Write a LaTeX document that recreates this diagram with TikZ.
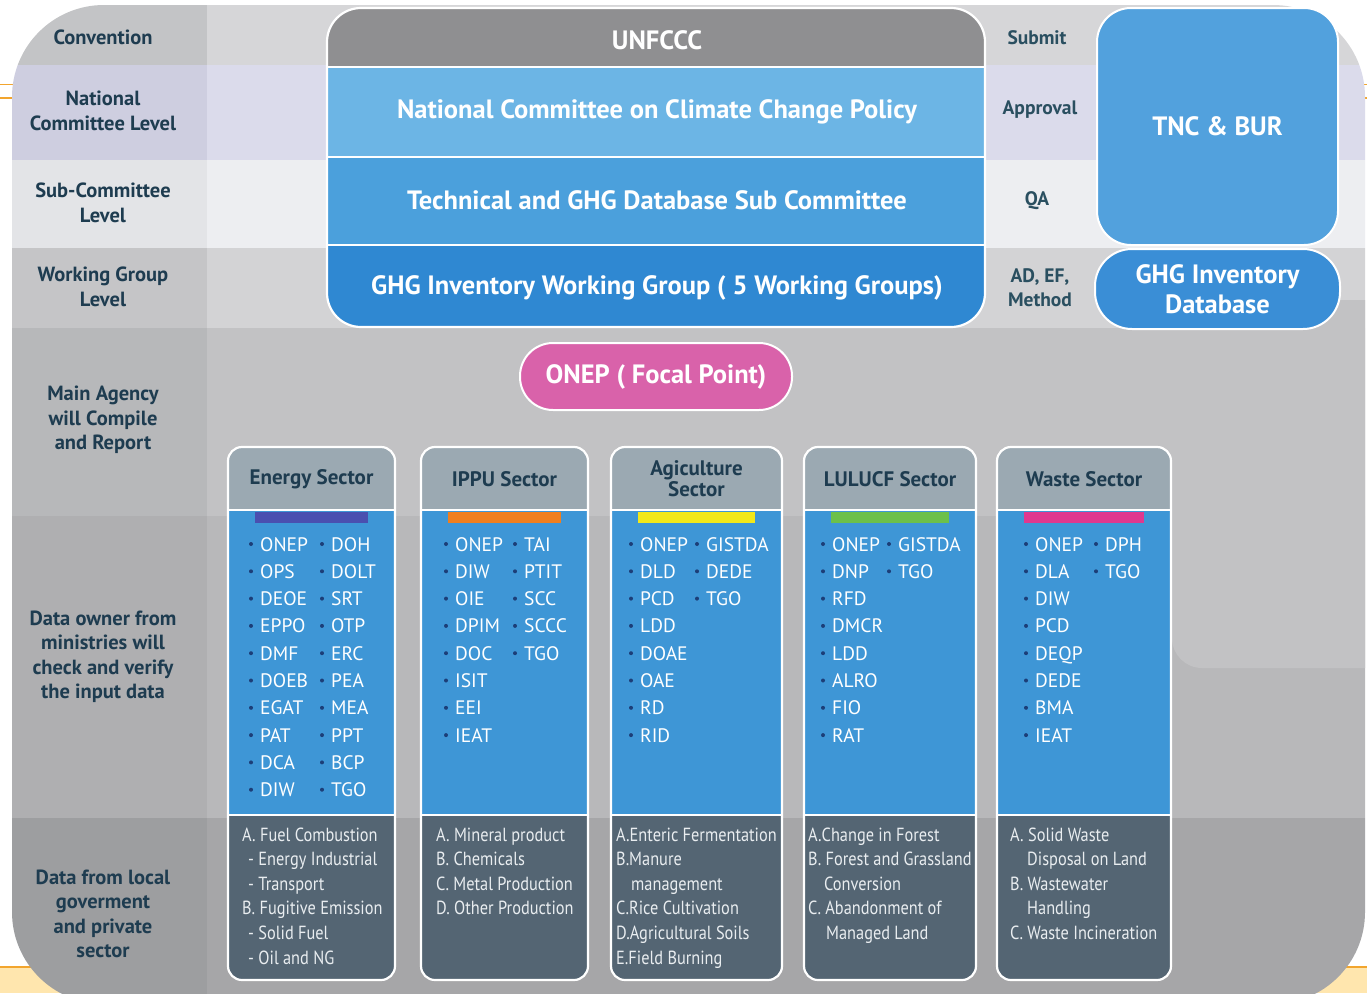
\documentclass[tikz,border=0pt]{standalone}
\usepackage{fontspec}
\setmainfont{PT Sans}
\newfontfamily\condfont[FakeStretch=0.86]{PT Sans}
\definecolor{lblc}{HTML}{1E3C50}
\definecolor{rlblc}{HTML}{2A4F60}
\definecolor{orangeln}{HTML}{F2A52E}
\definecolor{bandfill}{HTML}{FFE6AE}
\definecolor{ra1}{HTML}{C3C4C6}\definecolor{rb1}{HTML}{D6D6D8}
\definecolor{ra2}{HTML}{CECEE0}\definecolor{rb2}{HTML}{DBDBEB}
\definecolor{ra3}{HTML}{E3E4E7}\definecolor{rb3}{HTML}{EDEEF1}
\definecolor{ra4}{HTML}{C5C5C7}\definecolor{rb4}{HTML}{D3D3D5}
\definecolor{ra5}{HTML}{B7B8BA}\definecolor{rb5}{HTML}{C2C2C4}
\definecolor{ra6}{HTML}{AFAFB1}\definecolor{rb6}{HTML}{B8B8BA}
\definecolor{ra7}{HTML}{9D9EA0}\definecolor{rb7}{HTML}{A6A6A8}
\definecolor{unc}{HTML}{8F8F91}
\definecolor{natc}{HTML}{6CB5E5}
\definecolor{techc}{HTML}{4BA0DC}
\definecolor{wgc}{HTML}{2F88D2}
\definecolor{tncc}{HTML}{52A1DD}
\definecolor{dbc}{HTML}{3A8ED6}
\definecolor{onepc}{HTML}{D962AA}
\definecolor{headc}{HTML}{9BA9B2}
\definecolor{bodyc}{HTML}{3E96D6}
\definecolor{botc}{HTML}{546573}
\definecolor{bulletc}{HTML}{1C3E78}
\definecolor{subc}{HTML}{E9EDF0}
\definecolor{barA}{HTML}{4A4FB0}
\definecolor{barB}{HTML}{F07F1E}
\definecolor{barC}{HTML}{F2E81A}
\definecolor{barD}{HTML}{6CC04A}
\definecolor{barE}{HTML}{E0388F}
\tikzset{
  lbl/.style={text=lblc, font=\fontsize{20.5}{24.5}\selectfont\bfseries, align=center, inner sep=0pt},
  rlbl/.style={text=rlblc, font=\fontsize{19.5}{24}\selectfont\bfseries, align=center, inner sep=0pt},
  wtitle/.style={text=white, font=\fontsize{26.5}{30}\selectfont\bfseries, align=center, inner sep=0pt},
  sechead/.style={text=lblc, font=\fontsize{21}{21}\selectfont\bfseries, align=center, inner sep=0pt},
  itemtxt/.style={text=white, font=\fontsize{19.5}{22}\selectfont, anchor=base west, inner sep=0pt},
  bdot/.style={circle, fill=bulletc, inner sep=0pt, minimum size=4pt},
  subtxt/.style={text=subc, font=\condfont\fontsize{19}{20}\selectfont, anchor=base west, inner sep=0pt},
  boxnode/.style={draw=white, line width=2pt, align=center, inner sep=0pt},
}
\newcommand\sectorcol[5]{%
  \begin{scope}
    \clip[rounded corners=14pt] (#2,447) rectangle (#3,980);
    \fill[headc] (#2,447) rectangle (#3,510);
    \fill[bodyc] (#2,510) rectangle (#3,815);
    \fill[botc] (#2,815) rectangle (#3,980);
  \end{scope}
  \draw[white, line width=2.2pt, rounded corners=14pt] (#2,447) rectangle (#3,980);
  \draw[white, line width=2pt] (#2,510) -- (#3,510) (#2,815) -- (#3,815);
  \fill[#4] ({#2+27},512) rectangle ({#3-27},523);
  \node[sechead] (#1-head) at ({(#2+#3)/2},479) {#5};
}
\newcommand\itemcol[3]{%
  \foreach \t [count=\i] in {#3} {
    \node[bdot] (#1-d\i) at ({#2-9},{544+27.3*(\i-1)}) {};
    \node[itemtxt] (#1-t\i) at (#2,{551+27.3*(\i-1)}) {\t};
  }%
}
\newcommand\subcol[3]{%
  \foreach \t/\dx [count=\i] in {#3} {
    \node[subtxt] (#1-s\i) at ({#2+\dx},{841+24.6*(\i-1)}) {\t};
  }%
}
\begin{document}
\begin{tikzpicture}[x=1pt,y=-1pt]
\useasboundingbox (0,0) rectangle (1367,993);
\fill[white] (0,0) rectangle (1367,993);
% slide decorations
\draw[orangeln, line width=1.5pt] (0,84.5) -- (1367,84.5) (0,98) -- (1367,98);
\fill[bandfill] (0,967) rectangle (1367,993);
\draw[orangeln, line width=1.5pt] (0,967) -- (1367,967);
% main panel
\begin{scope}
  \clip[rounded corners=92pt] (12,5) rectangle (1365,1004);
  \fill[ra1] (12,0) rectangle (207,65);   \fill[rb1] (207,0) rectangle (1367,65);
  \fill[ra2] (12,65) rectangle (207,160); \fill[rb2] (207,65) rectangle (1367,160);
  \fill[ra3] (12,160) rectangle (207,248);\fill[rb3] (207,160) rectangle (1367,248);
  \fill[ra4] (12,248) rectangle (207,328);\fill[rb4] (207,248) rectangle (1367,328);
  \fill[ra5] (12,328) rectangle (207,516);\fill[rb5] (207,328) rectangle (1367,516);
  \fill[ra6] (12,516) rectangle (207,818);\fill[rb6] (207,516) rectangle (1367,818);
  \fill[ra7] (12,818) rectangle (207,1010);\fill[rb7] (207,818) rectangle (1367,1010);
  \fill[rb5, rounded corners=30pt] (1172,300) rectangle (1420,668);
\end{scope}
% left labels
\node[lbl] (l1) at (103,37) {Convention};
\node[lbl] (l2) at (103,111) {National\\Committee Level};
\node[lbl] (l3) at (103,203) {Sub-Committee\\Level};
\node[lbl] (l4) at (103,287) {Working Group\\Level};
\node[lbl] (l5) at (103,420) {Main Agency\\will Compile\\and Report};
\node[lbl] (l6) at (103,657) {Data owner from\\ministries will\\check and verify\\the input data};
\node[lbl] (l7) at (103,914) {Data from local\\goverment\\and private\\sector};
% central stack
\begin{scope}
  \clip[rounded corners=34pt] (327,8) rectangle (985,327);
  \fill[unc] (327,8) rectangle (985,67);
  \fill[natc] (327,67) rectangle (985,157);
  \fill[techc] (327,157) rectangle (985,245);
  \fill[wgc] (327,245) rectangle (985,327);
\end{scope}
\draw[white, line width=2pt] (327,67) -- (985,67) (327,157) -- (985,157) (327,245) -- (985,245);
\draw[white, line width=2.2pt, rounded corners=34pt] (327,8) rectangle (985,327);
\node[wtitle] (unfccc) at (657,40) {UNFCCC};
\node[wtitle] (natcom) at (657,112) {National Committee on Climate Change Policy};
\node[wtitle] (techcom) at (657,200) {Technical and GHG Database Sub Committee};
\node[wtitle] (wgroup) at (657,288) {GHG Inventory Working Group ( 5 Working Groups)};
% right labels
\node[rlbl] (r1) at (1037,38) {Submit};
\node[rlbl] (r2) at (1040,110) {Approval};
\node[rlbl] (r3) at (1037,201) {QA};
\node[rlbl] (r4) at (1040,288) {AD, EF,\\Method};
% right boxes
\node[boxnode, wtitle, fill=tncc, rounded corners=34pt, minimum width=241pt, minimum height=237pt] (tnc) at (1217.5,126.5) {TNC \& BUR};
\node[boxnode, wtitle, fill=dbc, rounded corners=37pt, minimum width=245pt, minimum height=80pt] (db) at (1217.5,289) {GHG Inventory\\Database};
% focal point
\node[boxnode, wtitle, fill=onepc, rounded corners=33pt, minimum width=272pt, minimum height=67pt] (onep) at (656,376.5) {ONEP ( Focal Point)};
% sector columns
\sectorcol{energy}{228}{395}{barA}{Energy Sector}
\sectorcol{ippu}{421}{588}{barB}{IPPU Sector}
\sectorcol{agri}{611}{782}{barC}{Agiculture\\Sector}
\sectorcol{lulucf}{804}{976}{barD}{LULUCF Sector}
\sectorcol{waste}{997}{1171}{barE}{Waste Sector}
% agency lists
\itemcol{ea}{260}{ONEP,OPS,DEOE,EPPO,DMF,DOEB,EGAT,PAT,DCA,DIW}
\itemcol{eb}{331}{DOH,DOLT,SRT,OTP,ERC,PEA,MEA,PPT,BCP,TGO}
\itemcol{ia}{455}{ONEP,DIW,OIE,DPIM,DOC,ISIT,EEI,IEAT}
\itemcol{ib}{524}{TAI,PTIT,SCC,SCCC,TGO}
\itemcol{aa}{640}{ONEP,DLD,PCD,LDD,DOAE,OAE,RD,RID}
\itemcol{ab}{706}{GISTDA,DEDE,TGO}
\itemcol{la}{832}{ONEP,DNP,RFD,DMCR,LDD,ALRO,FIO,RAT}
\itemcol{lb}{898}{GISTDA,TGO}
\itemcol{wa}{1035}{ONEP,DLA,DIW,PCD,DEQP,DEDE,BMA,IEAT}
\itemcol{wb}{1105}{DPH,TGO}
% emission categories
\subcol{es}{242}{{A. Fuel Combustion}/0,{- Energy Industrial}/6,{- Transport}/6,{B. Fugitive Emission}/0,{- Solid Fuel}/6,{- Oil and NG}/6}
\subcol{is}{436}{{A. Mineral product}/0,{B. Chemicals}/0,{C. Metal Production}/0,{D. Other Production}/0}
\subcol{as}{616}{{A.Enteric Fermentation}/0,{B.Manure}/0,{management}/15,{C.Rice Cultivation}/0,{D.Agricultural Soils}/0,{E.Field Burning}/0}
\subcol{ls}{808}{{A.Change in Forest}/0,{B. Forest and Grassland}/0,{Conversion}/16,{C. Abandonment of}/0,{Managed Land}/18}
\subcol{ws}{1010}{{A. Solid Waste}/0,{Disposal on Land}/17,{B. Wastewater}/0,{Handling}/17,{C. Waste Incineration}/0}
\end{tikzpicture}
\end{document}
